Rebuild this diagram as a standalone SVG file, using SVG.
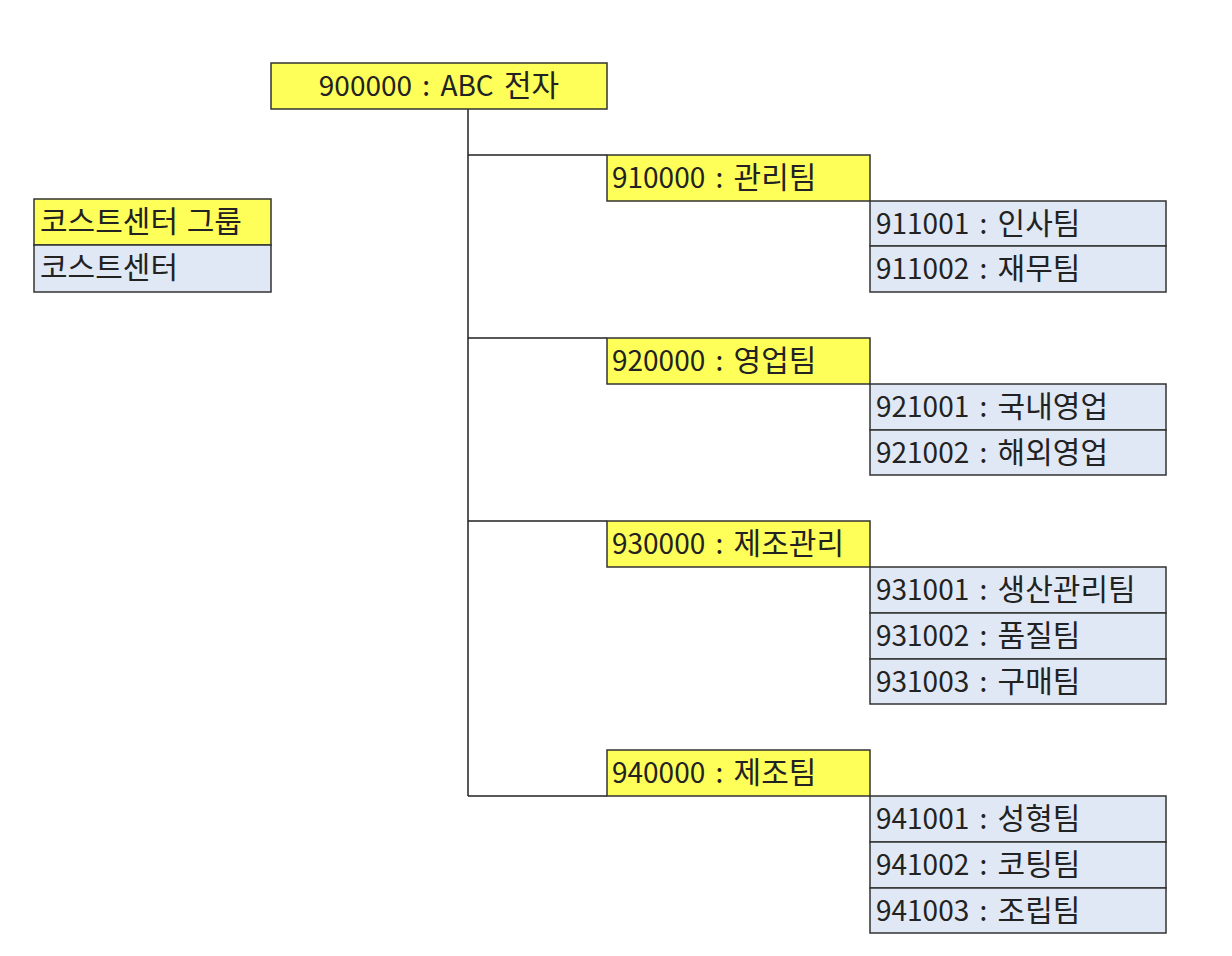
<svg xmlns="http://www.w3.org/2000/svg" width="1232" height="956" viewBox="0 0 1232 956">
<style>
.y{fill:#ffff5a;stroke:#333;stroke-width:1.5}
.b{fill:#dfe8f4;stroke:#333;stroke-width:1.5}
text{font-family:"Noto Sans CJK KR","Noto Sans",sans-serif;font-size:28px;fill:#222;word-spacing:4px}
.k{font-size:30px}
.c{stroke:#222;stroke-width:1.5;fill:none}
</style>
<rect width="1232" height="956" fill="#fff"/>
<g id="connectors">
<path class="c" d="M468 109V796M468 155H607M468 338H607M468 521H607M468 796H607"/>
</g>
<g id="root"><rect class="y" x="271" y="63" width="336" height="46"/><text x="439" y="96" text-anchor="middle">900000 : ABC <tspan class="k">전자</tspan></text></g>
<g id="legend">
<rect class="y" x="34" y="199" width="237" height="46"/><text x="40" y="232" class="k" style="word-spacing:2px">코스트센터 그룹</text>
<rect class="b" x="34" y="245" width="237" height="47"/><text x="40" y="278" class="k">코스트센터</text>
</g>
<g id="g910000"><rect class="y" x="607" y="155" width="263" height="46"/><text x="612" y="188">910000 : <tspan class="k">관리팀</tspan></text></g>
<g id="n911001"><rect class="b" x="870" y="201" width="296" height="45"/><text x="876" y="234">911001 : <tspan class="k">인사팀</tspan></text></g>
<g id="n911002"><rect class="b" x="870" y="246" width="296" height="46"/><text x="876" y="279">911002 : <tspan class="k">재무팀</tspan></text></g>
<g id="g920000"><rect class="y" x="607" y="338" width="263" height="46"/><text x="612" y="371">920000 : <tspan class="k">영업팀</tspan></text></g>
<g id="n921001"><rect class="b" x="870" y="384" width="296" height="46"/><text x="876" y="417">921001 : <tspan class="k">국내영업</tspan></text></g>
<g id="n921002"><rect class="b" x="870" y="430" width="296" height="45"/><text x="876" y="463">921002 : <tspan class="k">해외영업</tspan></text></g>
<g id="g930000"><rect class="y" x="607" y="521" width="263" height="46"/><text x="612" y="554">930000 : <tspan class="k">제조관리</tspan></text></g>
<g id="n931001"><rect class="b" x="870" y="567" width="296" height="46"/><text x="876" y="600">931001 : <tspan class="k">생산관리팀</tspan></text></g>
<g id="n931002"><rect class="b" x="870" y="613" width="296" height="46"/><text x="876" y="646">931002 : <tspan class="k">품질팀</tspan></text></g>
<g id="n931003"><rect class="b" x="870" y="659" width="296" height="45"/><text x="876" y="692">931003 : <tspan class="k">구매팀</tspan></text></g>
<g id="g940000"><rect class="y" x="607" y="750" width="263" height="46"/><text x="612" y="783">940000 : <tspan class="k">제조팀</tspan></text></g>
<g id="n941001"><rect class="b" x="870" y="796" width="296" height="46"/><text x="876" y="829">941001 : <tspan class="k">성형팀</tspan></text></g>
<g id="n941002"><rect class="b" x="870" y="842" width="296" height="46"/><text x="876" y="875">941002 : <tspan class="k">코팅팀</tspan></text></g>
<g id="n941003"><rect class="b" x="870" y="888" width="296" height="45"/><text x="876" y="921">941003 : <tspan class="k">조립팀</tspan></text></g>
</svg>
